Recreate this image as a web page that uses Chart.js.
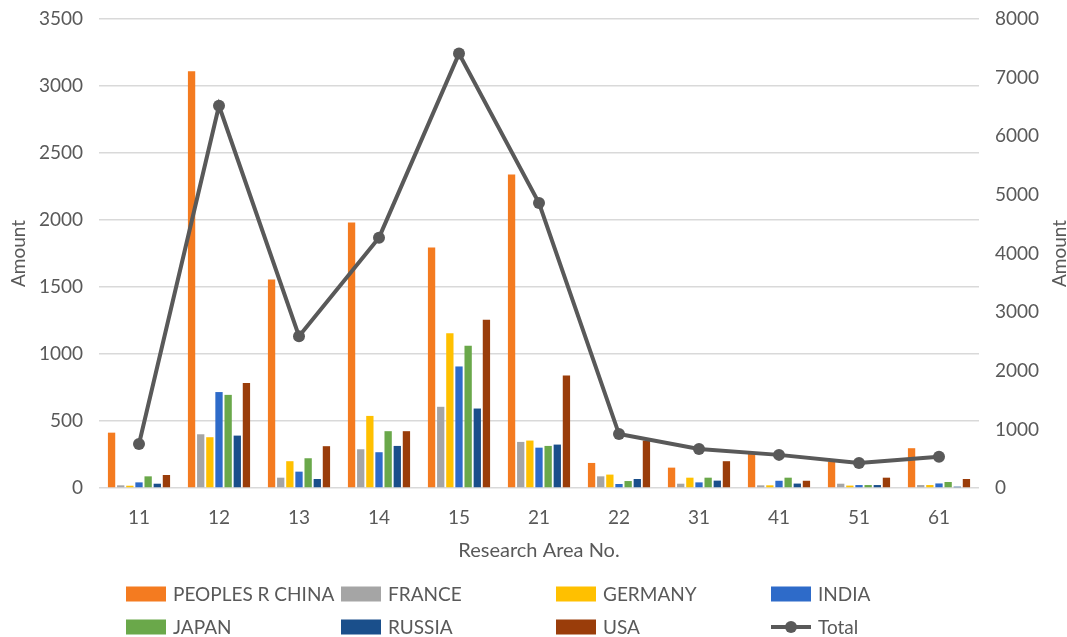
<!DOCTYPE html>
<html>
<head>
<meta charset="utf-8">
<script src="https://cdn.jsdelivr.net/npm/chart.js@4/dist/chart.umd.min.js"></script>
<style>
  html, body { margin: 0; padding: 0; background: #ffffff; }
  #wrap { width: 1067px; height: 637px; }
</style>
</head>
<body>
<div id="wrap"><canvas id="chart" width="1067" height="637"></canvas></div>
<script>
// Research areas on the x axis
const categories = ['11', '12', '13', '14', '15', '21', '22', '31', '41', '51', '61'];

// Publication counts per country (left axis)
const china   = [413, 3111, 1556, 1981, 1794, 2340, 187, 152, 255, 196, 297];
const france  = [20, 401, 77, 289, 606, 344, 87, 32, 20, 32, 22];
const germany = [17, 379, 200, 538, 1154, 354, 100, 77, 20, 18, 22];
const india   = [42, 716, 122, 267, 907, 301, 30, 42, 54, 22, 34];
const japan   = [87, 695, 222, 424, 1062, 314, 52, 77, 77, 22, 45];
const russia  = [32, 391, 67, 314, 593, 324, 67, 55, 33, 22, 10];
const usa     = [97, 783, 312, 424, 1256, 840, 354, 200, 54, 77, 67];

// Totals per research area (right axis)
const total   = [751, 6520, 2590, 4270, 7410, 4860, 920, 665, 565, 427, 532];

// Axis tick settings
const leftMax = 3500, leftStep = 500;
const rightMax = 8000, rightStep = 1000;

const FONT = 'Lato, "Open Sans", sans-serif';
const TEXT = '#595959';
const FONT_SIZE = 19;

const barSeries = [
  { label: 'PEOPLES R CHINA', data: china,   color: '#F47B20' },
  { label: 'FRANCE',          data: france,  color: '#A5A5A5' },
  { label: 'GERMANY',         data: germany, color: '#FFC000' },
  { label: 'INDIA',           data: india,   color: '#2E6BC9' },
  { label: 'JAPAN',           data: japan,   color: '#6AA84A' },
  { label: 'RUSSIA',          data: russia,  color: '#1A4F8B' },
  { label: 'USA',             data: usa,     color: '#9A3D0A' }
];

const datasets = barSeries.map(s => ({
  type: 'bar',
  label: s.label,
  data: s.data,
  backgroundColor: s.color,
  borderWidth: 0,
  yAxisID: 'y',
  order: 1,
  categoryPercentage: 0.8,
  barPercentage: 0.8
}));
datasets.push({
  type: 'line',
  label: 'Total',
  data: total,
  borderColor: '#595959',
  backgroundColor: '#595959',
  borderWidth: 4,
  pointRadius: 6,
  pointBackgroundColor: '#595959',
  pointBorderWidth: 0,
  tension: 0,
  yAxisID: 'y1',
  order: 0
});

// Axis titles and the two-row legend grid
const decorations = {
  id: 'decorations',
  afterDraw(chart) {
    const ctx = chart.ctx;
    const area = chart.chartArea;
    const midY = (area.top + area.bottom) / 2;
    ctx.save();
    ctx.fillStyle = TEXT;
    ctx.textAlign = 'center';
    ctx.textBaseline = 'middle';

    ctx.font = '20px ' + FONT;
    ctx.fillText('Research Area No.', (area.left + area.right) / 2, 551);

    ctx.font = FONT_SIZE + 'px ' + FONT;
    [19, 1060].forEach(x => {
      ctx.save();
      ctx.translate(x, midY);
      ctx.rotate(-Math.PI / 2);
      ctx.fillText('Amount', 0, 0);
      ctx.restore();
    });

    const colX = [126, 341, 556, 771];
    const rowY = [594, 627];
    // row-major grid: China, France, Germany, India / Japan, Russia, USA, Total
    ctx.textAlign = 'left';
    chart.data.datasets.forEach((d, i) => {
      const x = colX[i % 4];
      const y = rowY[Math.floor(i / 4)];
      if (d.type === 'line') {
        ctx.strokeStyle = d.borderColor;
        ctx.lineWidth = 4;
        ctx.beginPath();
        ctx.moveTo(x, y);
        ctx.lineTo(x + 40, y);
        ctx.stroke();
        ctx.fillStyle = d.borderColor;
        ctx.beginPath();
        ctx.arc(x + 20, y, 6, 0, Math.PI * 2);
        ctx.fill();
      } else {
        ctx.fillStyle = d.backgroundColor;
        ctx.fillRect(x, y - 7.5, 40, 15);
      }
      ctx.fillStyle = TEXT;
      ctx.fillText(d.label, x + 47, y + 1);
    });
    ctx.restore();
  }
};

const plainTick = v => String(v);

// fixed axis box sizes so the plot area sits where intended
const fixY = width => scale => {
  scale.width = width;
  scale.paddingTop = 0;
  scale.paddingBottom = 0;
};

new Chart(document.getElementById('chart'), {
  data: { labels: categories, datasets },
  options: {
    responsive: false,
    animation: false,
    devicePixelRatio: 1,
    layout: { padding: { top: 19, left: 0, right: 0, bottom: 0 } },
    plugins: {
      legend: { display: false },
      tooltip: { enabled: false }
    },
    scales: {
      x: {
        offset: true,
        grid: { display: false, drawTicks: false },
        border: { display: false },
        ticks: { color: TEXT, font: { family: FONT, size: FONT_SIZE }, padding: 18 },
        afterFit(scale) { scale.height = 149; scale.paddingLeft = 0; scale.paddingRight = 0; }
      },
      y: {
        position: 'left',
        min: 0,
        max: leftMax,
        grid: { color: '#D9D9D9', lineWidth: 1.5, drawTicks: false },
        border: { display: false },
        ticks: { stepSize: leftStep, color: TEXT, font: { family: FONT, size: FONT_SIZE }, padding: 16, callback: plainTick },
        afterFit: fixY(99)
      },
      y1: {
        position: 'right',
        min: 0,
        max: rightMax,
        grid: { drawOnChartArea: false, drawTicks: false },
        border: { display: false },
        ticks: { stepSize: rightStep, color: TEXT, font: { family: FONT, size: FONT_SIZE }, padding: 16, callback: plainTick },
        afterFit: fixY(88)
      }
    }
  },
  plugins: [decorations]
});
</script>
</body>
</html>
